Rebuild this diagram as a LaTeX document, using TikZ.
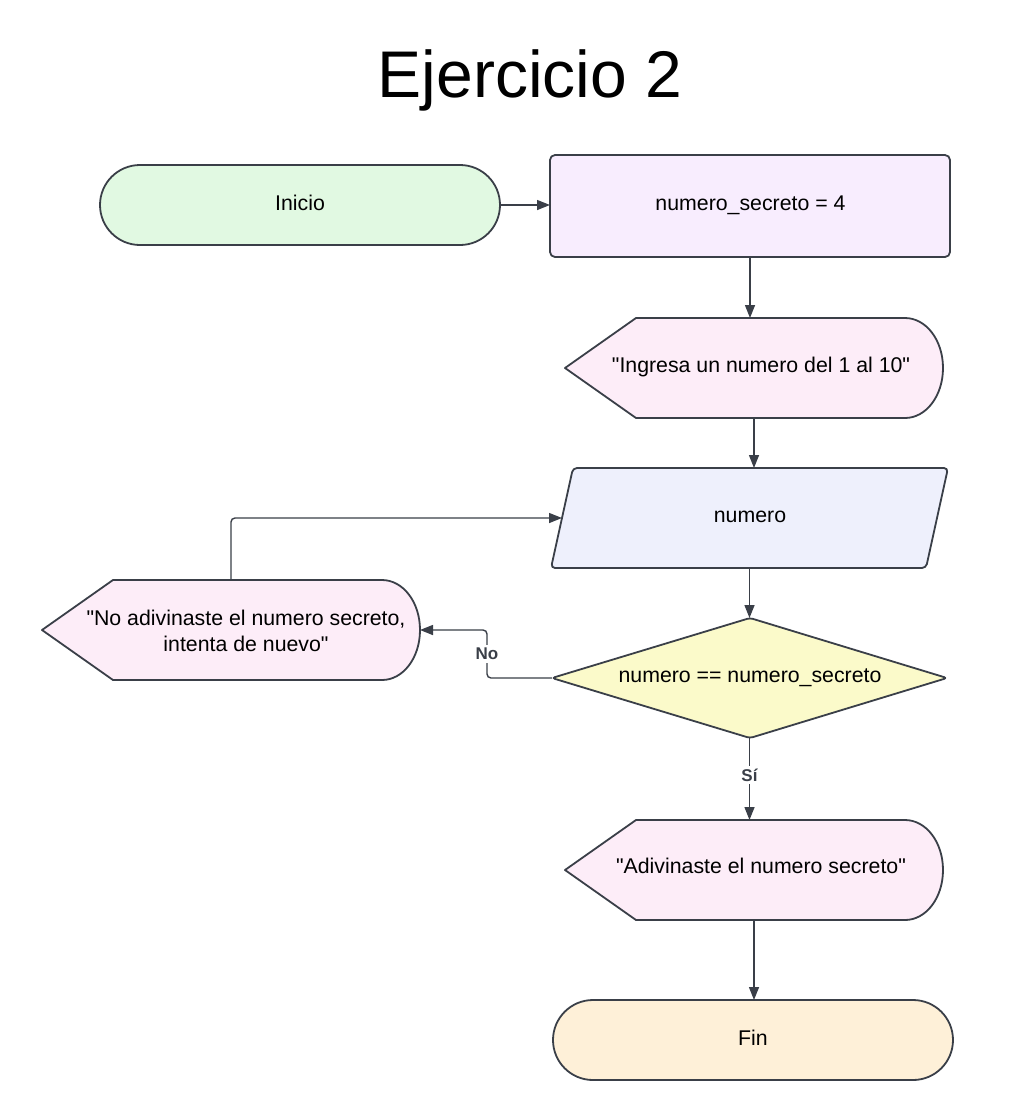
\documentclass[tikz,border=0pt]{standalone}
\usepackage{fontspec}
\setmainfont{Liberation Sans}[Ligatures=TeXOff]
\usetikzlibrary{arrows.meta}
\definecolor{ln}{HTML}{3A3F48}
\definecolor{cgreen}{HTML}{E1F9E2}
\definecolor{cpurple}{HTML}{F8EDFE}
\definecolor{cpink}{HTML}{FDEDF8}
\definecolor{cblue}{HTML}{EEF0FC}
\definecolor{cyellow}{HTML}{FBFACA}
\definecolor{corange}{HTML}{FEF0D8}
\newcommand{\dispshape}[3]{%
  \draw[shp, fill=cpink] (#1,#3) -- ({#1+71},{#3-50}) -- ({#2-38},{#3-50})
   .. controls ({#2-17},{#3-50}) and (#2,{#3-28}) .. (#2,#3)
   .. controls (#2,{#3+28}) and ({#2-17},{#3+50}) .. ({#2-38},{#3+50})
   -- ({#1+71},{#3+50}) -- cycle;}
\begin{document}
\begin{tikzpicture}[x=1pt,y=-1pt,
  shp/.style={draw=ln, line width=1.8pt, line join=round},
  anc/.style={inner sep=0pt, outer sep=0pt},
  txt/.style={font=\fontsize{21.3}{26}\selectfont, inner sep=0pt, align=center, anchor=base},
  arr/.style={draw=ln, line width=1.4pt, -{Triangle[length=13pt,width=10pt]}},
  lbl/.style={font=\bfseries\fontsize{17}{20}\selectfont, text=ln, fill=white, inner sep=3pt}
]
\useasboundingbox[fill=white] (0,0) rectangle (1020,1120);

\node[font=\fontsize{66}{70}\selectfont, anchor=base, inner sep=0pt] (title) at (530,97) {Ejercicio 2};

% Inicio
\node[anc, shp, fill=cgreen, rounded corners=40pt, minimum width=400pt, minimum height=80pt] (ini) at (300,205) {};
\node[txt] (init) at (300,210) {Inicio};

% numero_secreto
\node[anc, shp, fill=cpurple, rounded corners=5pt, minimum width=400pt, minimum height=102pt] (sec) at (750,206) {};
\node[txt] (sect) at (750.5,210.5) {numero\_secreto = 4};

% display 1
\dispshape{565}{943}{368}
\node[anc, minimum width=378pt, minimum height=100pt] (d1) at (754,368) {};
\node[txt] (d1t) at (761,372) {"Ingresa un numero del 1 al 10"};

% input
\draw[shp, fill=cblue, rounded corners=4pt] (573,468) -- (948,468) -- (926,568) -- (551,568) -- cycle;
\node[anc, minimum width=397pt, minimum height=100pt] (inp) at (749.5,518) {};
\node[txt] (inpt) at (750,522) {numero};

% decision
\draw[shp, fill=cyellow, rounded corners=3pt] (750,618) -- (947,678) -- (750,738) -- (552,678) -- cycle;
\node[anc, minimum width=395pt, minimum height=120pt] (dec) at (749.5,678) {};
\node[txt] (dect) at (750,682) {numero == numero\_secreto};

% display 2
\dispshape{42}{420}{630}
\node[anc, minimum width=378pt, minimum height=100pt] (d2) at (231,630) {};
\node[txt, anchor=center] (d2t) at (246,631) {"No adivinaste el numero secreto,\\intenta de nuevo"};

% display 3
\dispshape{565}{943}{870}
\node[anc, minimum width=378pt, minimum height=100pt] (d3) at (754,870) {};
\node[txt] (d3t) at (761,873) {"Adivinaste el numero secreto"};

% Fin
\node[anc, shp, fill=corange, rounded corners=40pt, minimum width=400pt, minimum height=80pt] (fin) at (753,1040) {};
\node[txt] (fint) at (753,1045) {Fin};

% connectors
\draw[arr] (ini.east) -- (ini.east -| sec.west);
\draw[arr] (sec.south) -- (sec.south |- d1.north);
\draw[arr] (d1.south) -- (d1.south |- inp.north);
\draw[arr] (inp.south) -- (dec.north);
\draw[arr, rounded corners=4pt] (dec.west) -| node[lbl, pos=0.75] (no) {No} ([xshift=67pt]d2.east) -- (d2.east);
\draw[arr, rounded corners=4pt] (d2.north) |- ([xshift=11pt]inp.west);
\draw[arr] (dec.south) -- node[lbl, pos=0.45] (si) {Sí} (dec.south |- d3.north);
\draw[arr] (d3.south) -- (d3.south |- fin.north);
\end{tikzpicture}
\end{document}
